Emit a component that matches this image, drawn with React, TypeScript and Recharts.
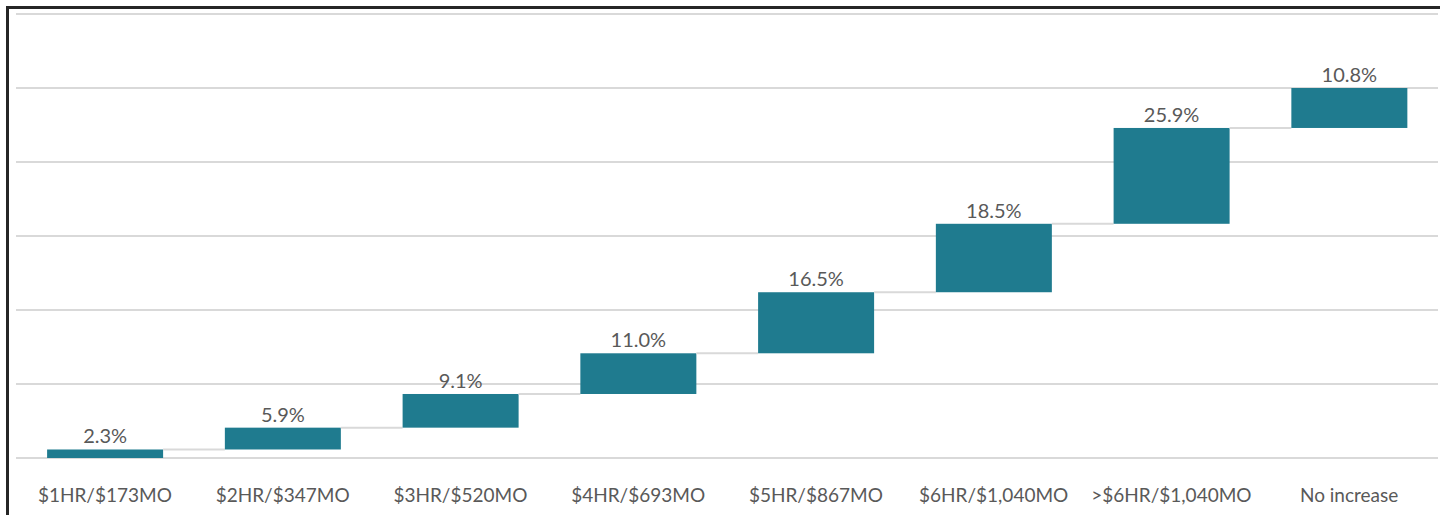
import { BarChart, Bar, XAxis, YAxis, CartesianGrid, LabelList } from "recharts";

const categories = [
  "$1HR/$173MO",
  "$2HR/$347MO",
  "$3HR/$520MO",
  "$4HR/$693MO",
  "$5HR/$867MO",
  "$6HR/$1,040MO",
  ">$6HR/$1,040MO",
  "No increase",
];
const shares = [2.3, 5.9, 9.1, 11.0, 16.5, 18.5, 25.9, 10.8];
const yTicks = [0, 20, 40, 60, 80, 100, 120];

const BAR_COLOR = "#1f7b8f";
const GRID_COLOR = "#d9d9d9";
const TEXT_COLOR = "#595959";
const FONT = "Lato, 'Open Sans', sans-serif";

const CHART_W = 1431;
const CHART_H = 506;
const MARGIN = { top: 5, right: 2, left: 7, bottom: 7 };
const BAND = (CHART_W - MARGIN.left - MARGIN.right) / categories.length;

// waterfall: invisible base + visible step
let running = 0;
const data = categories.map((name, i) => {
  const base = running;
  running += shares[i];
  return { name, base, value: shares[i] };
});

function StepShape(props: any) {
  const { x, y, width, height, index } = props;
  const gap = BAND - width;
  return (
    <g>
      <rect x={x} y={y} width={width} height={height} fill={BAR_COLOR} />
      {index < categories.length - 1 && (
        <line x1={x + width} x2={x + width + gap} y1={y} y2={y} stroke={GRID_COLOR} strokeWidth={2} />
      )}
    </g>
  );
}

export default function App() {
  return (
    <div
      style={{
        position: "absolute",
        left: 6,
        top: 6,
        width: 1434,
        height: 509,
        boxSizing: "border-box",
        borderTop: "3px solid #262626",
        borderLeft: "3px solid #262626",
        background: "#fff",
        overflow: "hidden",
      }}
    >
      <BarChart width={CHART_W} height={CHART_H} data={data} margin={MARGIN} barCategoryGap="17.5%">
        <CartesianGrid vertical={false} stroke={GRID_COLOR} strokeWidth={2} />
        <XAxis
          dataKey="name"
          height={50}
          axisLine={false}
          tickLine={false}
          tickMargin={25}
          interval={0}
          tick={{ fill: TEXT_COLOR, fontSize: 19, fontFamily: FONT }}
        />
        <YAxis hide domain={[0, 120]} ticks={yTicks} />
        <Bar dataKey="base" stackId="w" fill="transparent" isAnimationActive={false} />
        <Bar dataKey="value" stackId="w" shape={StepShape} isAnimationActive={false}>
          <LabelList
            dataKey="value"
            position="top"
            offset={6}
            formatter={(v: any) => `${Number(v).toFixed(1)}%`}
            style={{ fill: TEXT_COLOR, fontSize: 20, fontFamily: FONT }}
          />
        </Bar>
      </BarChart>
    </div>
  );
}
